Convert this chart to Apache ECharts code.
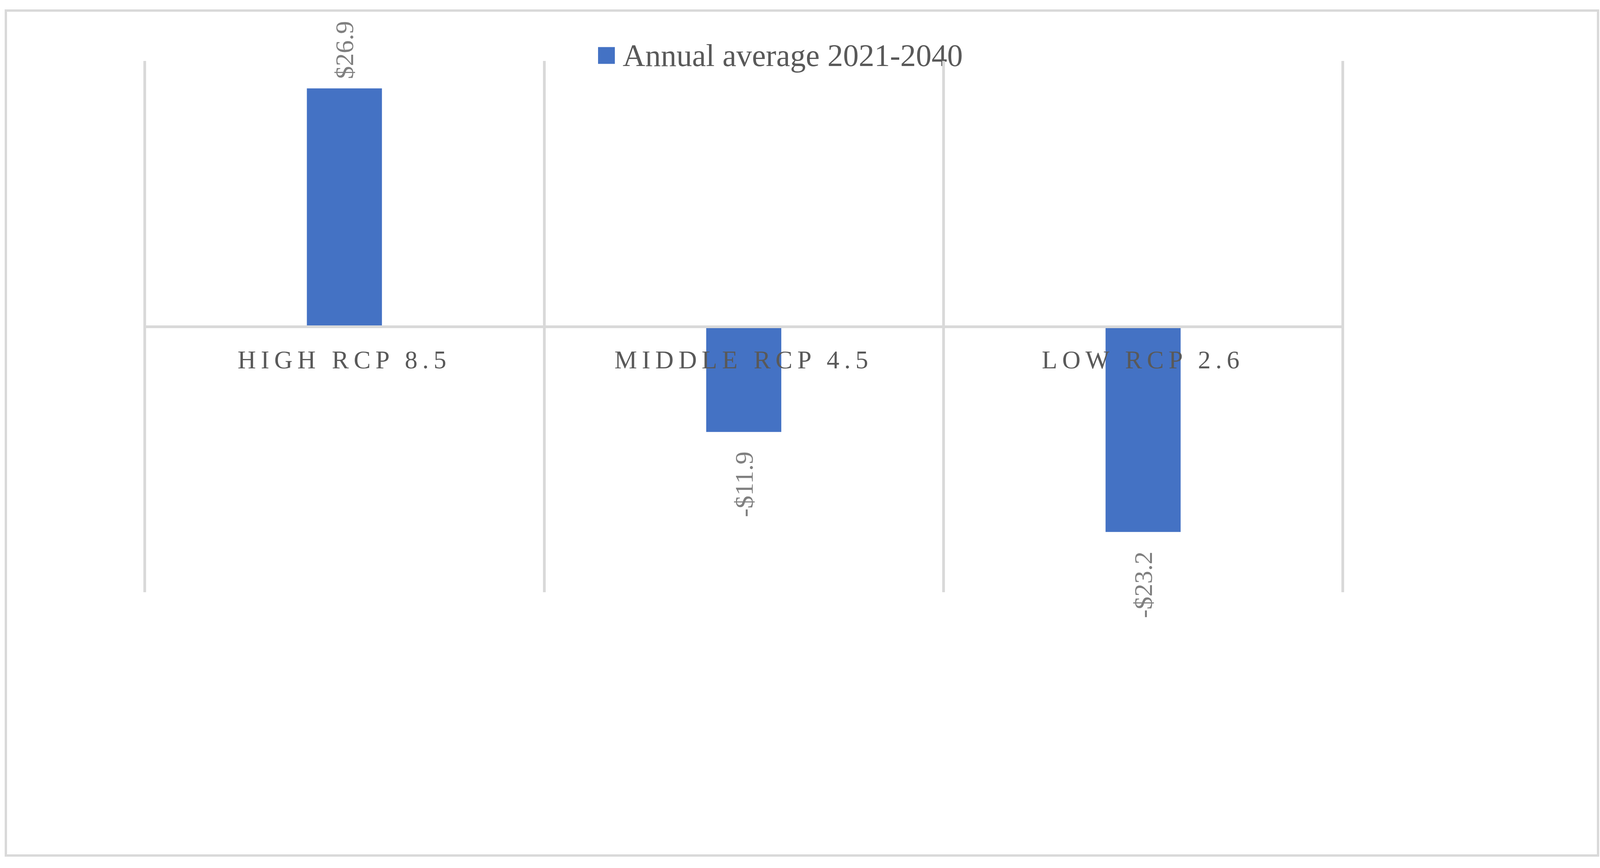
<!DOCTYPE html>
<html>
<head>
<meta charset="utf-8">
<script src="https://cdn.jsdelivr.net/npm/echarts@6/dist/echarts.min.js"></script>
<style>
  html, body { margin: 0; padding: 0; background: #ffffff; }
  #chart { width: 4128px; height: 2222px; }
  /* category labels are letter-spaced in the reference */
  #chart text[style*="65px"] { letter-spacing: 12.5px; }
</style>
</head>
<body>
<div id="chart"></div>
<script>
const categories = ['HIGH RCP 8.5', 'MIDDLE RCP 4.5', 'LOW RCP 2.6'];
const seriesName = 'Annual average 2021-2040';
const values = [26.9, -11.9, -23.2];

const chart = echarts.init(document.getElementById('chart'), null, { renderer: 'svg' });

function fmt(v) {
  return (v < 0 ? '-$' : '$') + Math.abs(v).toFixed(1);
}

const data = values.map(v => ({
  value: v,
  label: v >= 0
    ? { position: 'top', distance: 24, rotate: 90, align: 'left', verticalAlign: 'middle' }
    : { position: 'bottom', distance: 50, rotate: 90, align: 'right', verticalAlign: 'middle' }
}));

chart.setOption({
  animation: false,
  backgroundColor: '#ffffff',
  graphic: [{
    type: 'rect',
    shape: { x: 15, y: 27, width: 4076, height: 2163 },
    style: { fill: 'none', stroke: '#d9d9d9', lineWidth: 6 },
    z: -1
  }],
  legend: {
    left: 1531,
    top: 102,
    padding: 0,
    itemWidth: 43,
    itemHeight: 43,
    icon: 'rect',
    textStyle: {
      fontFamily: 'Liberation Serif',
      fontSize: 80,
      color: '#595959',
      padding: [0, 0, 0, 15]
    },
    data: [seriesName]
  },
  grid: { left: 370.5, top: 156, width: 3067, height: 1360, containLabel: false },
  xAxis: {
    type: 'category',
    z: 5,
    data: categories,
    axisLine: { onZero: true, lineStyle: { color: '#d9d9d9', width: 7 } },
    axisTick: { show: false },
    axisLabel: {
      fontFamily: 'Liberation Serif',
      fontSize: 65,
      color: '#595959',
      margin: -628
    },
    splitLine: { show: true, lineStyle: { color: '#d9d9d9', width: 7 } }
  },
  yAxis: {
    type: 'value',
    min: -30,
    max: 30,
    interval: 10,
    axisLine: { show: false },
    axisTick: { show: false },
    axisLabel: { show: false },
    splitLine: { show: false }
  },
  series: [{
    name: seriesName,
    type: 'bar',
    z: 2,
    barWidth: '18.8%',
    itemStyle: { color: '#4472c4' },
    label: {
      show: true,
      fontFamily: 'Liberation Serif',
      fontSize: 66,
      color: '#7f7f7f',
      formatter: p => fmt(p.value)
    },
    data: data
  }]
});
</script>
</body>
</html>
